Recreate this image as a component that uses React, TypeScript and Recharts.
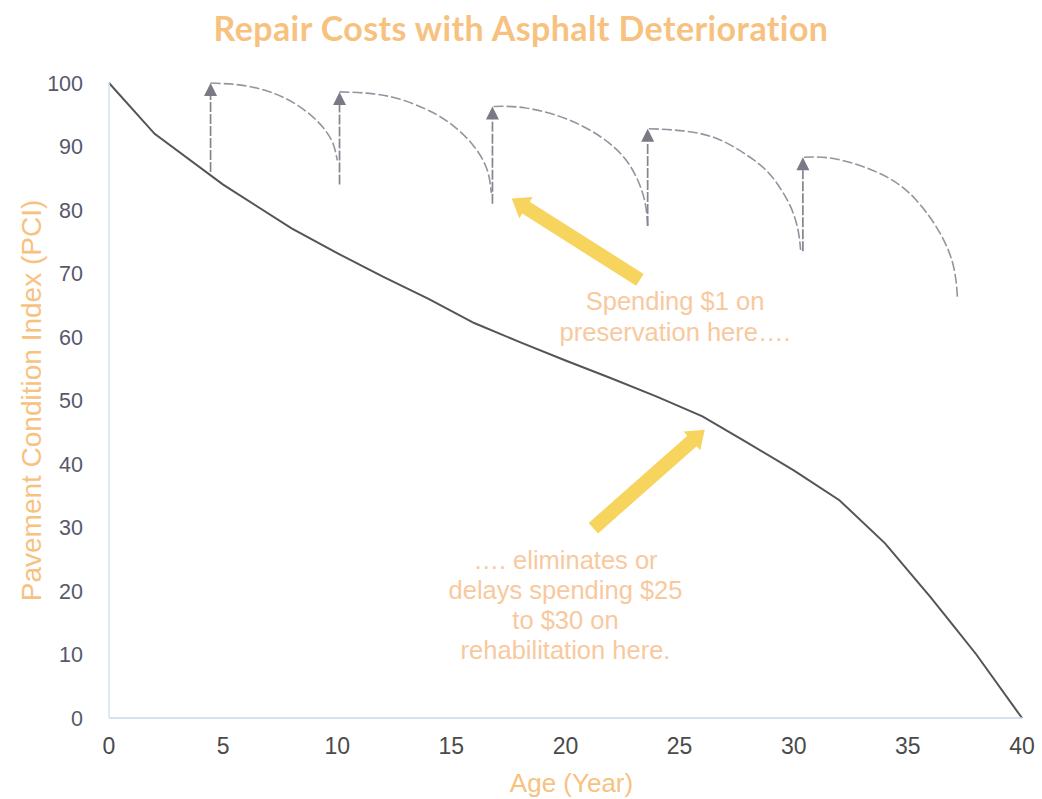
import {
  ComposedChart,
  Line,
  XAxis,
  YAxis,
  ReferenceLine,
  ReferenceDot,
  Label,
} from "recharts";

// main deterioration curve
const ageYears = [0, 2, 5, 8, 10, 12, 14, 16, 18, 20, 22, 24, 26, 28, 30, 32, 34, 36, 37, 38, 40];
const pciValues = [100, 92, 84, 77.1, 73.2, 69.5, 66, 62.2, 59.2, 56.3, 53.5, 50.6, 47.5, 43.3, 39, 34.3, 27.5, 19, 14.5, 10, 0];

// preservation arcs
const arc1Ages = [4.45, 5.7, 6.8, 7.6, 8.3, 8.95, 9.4, 9.8, 10.0];
const arc1Pci = [100, 99.7, 98.9, 97.8, 96.4, 94.6, 92.9, 90.6, 87.8];
const arc2Ages = [10.1, 11.3, 12.6, 14.05, 15.1, 15.95, 16.55, 16.75];
const arc2Pci = [98.6, 98.4, 97.6, 95.6, 93.2, 90.2, 86.5, 82.7];
const arc3Ages = [16.85, 18.2, 20.0, 21.55, 22.6, 23.2, 23.5, 23.6];
const arc3Pci = [96.3, 96.1, 94.4, 91.5, 88.1, 84.4, 80.9, 77.5];
const arc4Ages = [23.65, 25.3, 26.8, 28.2, 29.1, 29.85, 30.2, 30.3];
const arc4Pci = [92.8, 92.4, 91, 88, 85, 80.6, 76.6, 73.7];
const arc5Ages = [30.45, 31.9, 33.8, 35.25, 36.4, 37.0, 37.17];
const arc5Pci = [88.3, 88.0, 85.7, 82, 76.4, 71.1, 66.3];

// vertical "treatment" arrows
const treatAges = [4.45, 10.1, 16.8, 23.6, 30.4];
const treatFrom = [86, 84, 81, 77.5, 73.5];
const treatTo = [100, 98.6, 96.3, 92.8, 88.3];

const xTicks = [0, 5, 10, 15, 20, 25, 30, 35, 40];
const yTicks = [0, 10, 20, 30, 40, 50, 60, 70, 80, 90, 100];

const upperNote = ["Spending $1 on", "preservation here…."];
const lowerNote = ["…. eliminates or", "delays spending $25", "to $30 on", "rehabilitation here."];

const toRows = (xs: number[], ys: number[]) => xs.map((age, i) => ({ age, pci: ys[i] }));
const mainData = toRows(ageYears, pciValues);
const arcs = [
  toRows(arc1Ages, arc1Pci),
  toRows(arc2Ages, arc2Pci),
  toRows(arc3Ages, arc3Pci),
  toRows(arc4Ages, arc4Pci),
  toRows(arc5Ages, arc5Pci),
];

const ORANGE = "#f7c27f";
const NOTE = "#f8c99e";
const GREY = "#9494a0";
const YELLOW = "#f6d45e";
const FONT = "'Liberation Sans', Arial, sans-serif";

const GreyArrow = (p: any) => {
  const { x1, y1, x2, y2 } = p;
  const head = 13;
  return (
    <g>
      <line x1={x1} y1={y1} x2={x2} y2={y2 + head} stroke="#85858f" strokeWidth={1.7} strokeDasharray="10 2" />
      <polygon points={`${x2},${y2} ${x2 - 6.5},${y2 + head} ${x2 + 6.5},${y2 + head}`} fill="#7a7a86" />
    </g>
  );
};

const ThickArrow = (p: any) => {
  const { x1, y1, x2, y2 } = p;
  const dx = x2 - x1;
  const dy = y2 - y1;
  const len = Math.hypot(dx, dy);
  const ux = dx / len;
  const uy = dy / len;
  const nx = -uy;
  const ny = ux;
  const w = 7;
  const hw = 12.5;
  const hl = 17;
  const bx = x2 - ux * hl;
  const by = y2 - uy * hl;
  const pts = [
    [x1 + nx * w, y1 + ny * w],
    [bx + nx * w, by + ny * w],
    [bx + nx * hw, by + ny * hw],
    [x2, y2],
    [bx - nx * hw, by - ny * hw],
    [bx - nx * w, by - ny * w],
    [x1 - nx * w, y1 - ny * w],
  ];
  return <polygon points={pts.map((q) => q.join(",")).join(" ")} fill={YELLOW} />;
};

const noteShape = (lines: string[], gap: number) => (p: any) => (
  <text x={p.cx} y={p.cy} textAnchor="middle" fill={NOTE} fontSize={25.5} fontFamily={FONT}>
    {lines.map((t, i) => (
      <tspan key={i} x={p.cx} dy={i === 0 ? 0 : gap}>
        {t}
      </tspan>
    ))}
  </text>
);

const YTitle = (props: any) => {
  const vb = props.viewBox;
  const cx = 31;
  const cy = vb.y + vb.height / 2;
  return (
    <text
      x={cx}
      y={cy}
      transform={`rotate(-90, ${cx}, ${cy})`}
      textAnchor="middle"
      dominantBaseline="central"
      fill={ORANGE}
      fontSize={28}
      fontFamily={FONT}
    >
      Pavement Condition Index (PCI)
    </text>
  );
};

export default function App() {
  return (
    <div style={{ position: "relative", width: 1042, height: 799, background: "#fff" }}>
      <style>{`body{margin:0}`}</style>
      <div
        style={{
          position: "absolute",
          top: 7,
          left: 0,
          width: 1042,
          textAlign: "center",
          fontFamily: "Lato, sans-serif",
          fontWeight: 700,
          fontSize: 34,
          letterSpacing: 0.4,
          color: ORANGE,
        }}
      >
        Repair Costs with Asphalt Deterioration
      </div>
      <ComposedChart width={1042} height={799} margin={{ top: 83, right: 20, bottom: 0, left: 0 }}>
        <XAxis
          dataKey="age"
          type="number"
          domain={[0, 40]}
          ticks={xTicks}
          interval={0}
          height={81}
          tickSize={0}
          tickMargin={20}
          axisLine={{ stroke: "#c8d8ee", strokeWidth: 1.5 }}
          tickLine={false}
          tick={{ fill: "#4a4a4a", fontSize: 23, fontFamily: FONT }}
        >
          <Label
            value="Age (Year)"
            position="insideBottom"
            offset={7}
            dx={6}
            fill={ORANGE}
            fontSize={26}
            fontFamily={FONT}
          />
        </XAxis>
        <YAxis
          type="number"
          domain={[0, 100]}
          ticks={yTicks}
          interval={0}
          width={109}
          tickSize={0}
          tickMargin={26}
          axisLine={{ stroke: "#d6e2f2", strokeWidth: 1.5 }}
          tickLine={false}
          tick={{ fill: "#58586c", fontSize: 21.5, fontFamily: FONT }}
        >
          <Label content={YTitle} />
        </YAxis>

        <Line
          data={mainData}
          dataKey="pci"
          type="linear"
          stroke="#555559"
          strokeWidth={2}
          dot={false}
          isAnimationActive={false}
        />
        {arcs.map((d, i) => (
          <Line
            key={i}
            data={d}
            dataKey="pci"
            type="natural"
            stroke={GREY}
            strokeWidth={1.6}
            strokeDasharray="10 3"
            dot={false}
            isAnimationActive={false}
          />
        ))}
        {treatAges.map((a, i) => (
          <ReferenceLine
            key={`t${i}`}
            segment={[
              { x: a, y: treatFrom[i] },
              { x: a, y: treatTo[i] },
            ]}
            shape={GreyArrow}
          />
        ))}
        <ReferenceLine
          segment={[
            { x: 23.26, y: 69.0 },
            { x: 17.64, y: 81.8 },
          ]}
          shape={ThickArrow}
        />
        <ReferenceLine
          segment={[
            { x: 21.22, y: 29.9 },
            { x: 26.1, y: 45.4 },
          ]}
          shape={ThickArrow}
        />
        <ReferenceDot x={24.8} y={64.3} r={0} shape={noteShape(upperNote, 31)} />
        <ReferenceDot x={20.0} y={23.5} r={0} shape={noteShape(lowerNote, 30)} />
      </ComposedChart>
    </div>
  );
}
